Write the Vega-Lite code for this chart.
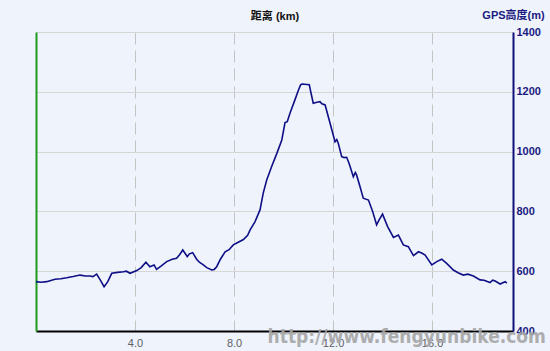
{
  "$schema": "https://vega.github.io/schema/vega-lite/v6.json",
  "width": 477,
  "height": 299,
  "autosize": {"type": "none"},
  "padding": {"left": 36, "top": 32, "right": 37, "bottom": 20},
  "background": "#EEF3FC",
  "config": {"view": {"stroke": null}, "font": "Liberation Sans, Noto Sans CJK SC, sans-serif"},
  "datasets": {
    "profile": [
      {"km": 0.0, "elev": 565}, {"km": 0.2, "elev": 563}, {"km": 0.43, "elev": 565}, {"km": 0.6, "elev": 569},
      {"km": 0.77, "elev": 573}, {"km": 1.0, "elev": 575}, {"km": 1.24, "elev": 578}, {"km": 1.5, "elev": 582},
      {"km": 1.78, "elev": 587}, {"km": 2.0, "elev": 584}, {"km": 2.18, "elev": 584}, {"km": 2.3, "elev": 582},
      {"km": 2.45, "elev": 590}, {"km": 2.6, "elev": 570}, {"km": 2.75, "elev": 548}, {"km": 2.9, "elev": 565},
      {"km": 3.06, "elev": 593}, {"km": 3.3, "elev": 596}, {"km": 3.53, "elev": 598}, {"km": 3.65, "elev": 600},
      {"km": 3.8, "elev": 593}, {"km": 4.07, "elev": 602}, {"km": 4.25, "elev": 612}, {"km": 4.44, "elev": 630},
      {"km": 4.6, "elev": 615}, {"km": 4.77, "elev": 621}, {"km": 4.87, "elev": 606}, {"km": 5.05, "elev": 617},
      {"km": 5.28, "elev": 632}, {"km": 5.5, "elev": 640}, {"km": 5.68, "elev": 643}, {"km": 5.8, "elev": 655},
      {"km": 5.93, "elev": 671}, {"km": 6.02, "elev": 660}, {"km": 6.11, "elev": 649}, {"km": 6.2, "elev": 658},
      {"km": 6.33, "elev": 662}, {"km": 6.49, "elev": 640}, {"km": 6.6, "elev": 630}, {"km": 6.76, "elev": 621},
      {"km": 6.9, "elev": 612}, {"km": 7.1, "elev": 604}, {"km": 7.2, "elev": 606}, {"km": 7.3, "elev": 615},
      {"km": 7.45, "elev": 640}, {"km": 7.64, "elev": 665}, {"km": 7.8, "elev": 672}, {"km": 7.97, "elev": 688},
      {"km": 8.15, "elev": 696}, {"km": 8.38, "elev": 706}, {"km": 8.55, "elev": 720}, {"km": 8.65, "elev": 738},
      {"km": 8.85, "elev": 766}, {"km": 9.05, "elev": 805}, {"km": 9.18, "elev": 861}, {"km": 9.32, "elev": 905},
      {"km": 9.52, "elev": 950}, {"km": 9.73, "elev": 994}, {"km": 9.93, "elev": 1039}, {"km": 10.06, "elev": 1097},
      {"km": 10.15, "elev": 1100}, {"km": 10.26, "elev": 1128}, {"km": 10.46, "elev": 1173}, {"km": 10.6, "elev": 1205},
      {"km": 10.69, "elev": 1223}, {"km": 10.75, "elev": 1226}, {"km": 11.04, "elev": 1224}, {"km": 11.1, "elev": 1200},
      {"km": 11.2, "elev": 1162}, {"km": 11.35, "elev": 1165}, {"km": 11.47, "elev": 1167}, {"km": 11.55, "elev": 1160},
      {"km": 11.68, "elev": 1156}, {"km": 11.88, "elev": 1095}, {"km": 12.08, "elev": 1033}, {"km": 12.15, "elev": 1040},
      {"km": 12.21, "elev": 1028}, {"km": 12.35, "elev": 983}, {"km": 12.45, "elev": 980}, {"km": 12.55, "elev": 981},
      {"km": 12.65, "elev": 960}, {"km": 12.82, "elev": 916}, {"km": 12.9, "elev": 930}, {"km": 12.95, "elev": 922},
      {"km": 13.1, "elev": 880}, {"km": 13.22, "elev": 844}, {"km": 13.43, "elev": 838}, {"km": 13.6, "elev": 800},
      {"km": 13.76, "elev": 755}, {"km": 13.85, "elev": 770}, {"km": 14.0, "elev": 791}, {"km": 14.2, "elev": 750},
      {"km": 14.44, "elev": 713}, {"km": 14.64, "elev": 721}, {"km": 14.84, "elev": 688}, {"km": 15.04, "elev": 682},
      {"km": 15.25, "elev": 652}, {"km": 15.45, "elev": 665}, {"km": 15.6, "elev": 660}, {"km": 15.72, "elev": 654},
      {"km": 15.99, "elev": 621}, {"km": 16.19, "elev": 632}, {"km": 16.39, "elev": 640}, {"km": 16.59, "elev": 626},
      {"km": 16.86, "elev": 604}, {"km": 17.05, "elev": 595}, {"km": 17.26, "elev": 587}, {"km": 17.45, "elev": 590},
      {"km": 17.67, "elev": 584}, {"km": 17.94, "elev": 571}, {"km": 18.1, "elev": 570}, {"km": 18.34, "elev": 562},
      {"km": 18.45, "elev": 570}, {"km": 18.55, "elev": 567}, {"km": 18.75, "elev": 557}, {"km": 18.95, "elev": 565},
      {"km": 19.02, "elev": 560}
    ],
    "watermark": [
      {"km": 20.6, "elev": 360, "label": "http://www.fengyunbike.com"}
    ]
  },
  "layer": [
    {
      "data": {"name": "profile"},
      "mark": {"type": "line", "color": "#0F0F86", "strokeWidth": 1.6, "interpolate": "linear"},
      "encoding": {
        "x": {
          "field": "km", "type": "quantitative",
          "scale": {"domain": [0, 19.27], "nice": false, "zero": false},
          "axis": {
            "orient": "bottom", "title": null, "values": [4, 8, 12, 16], "format": ".1f",
            "ticks": false, "labelPadding": 6, "labelFontSize": 11, "labelColor": "#606060",
            "domainColor": "#000000", "domainWidth": 2,
            "grid": true, "gridColor": "#C4C4C4", "gridDash": [12, 6], "gridWidth": 1
          }
        },
        "y": {
          "field": "elev", "type": "quantitative",
          "scale": {"domain": [400, 1400], "nice": false, "zero": false},
          "axis": {
            "orient": "right", "values": [400, 600, 800, 1000, 1200, 1400], "format": "d",
            "ticks": false, "labelPadding": 3, "labelFontSize": 11, "labelFontWeight": "bold",
            "labelColor": "#1A1A80", "labelBaseline": "middle",
            "domainColor": "#10107A", "domainWidth": 2,
            "grid": true, "gridColor": "#D6D6D6", "gridWidth": 1,
            "title": "GPS高度(m)", "titleAngle": 0, "titleX": 0, "titleY": -17,
            "titleAlign": "center", "titleBaseline": "middle",
            "titleFontSize": 11, "titleFontWeight": "bold", "titleColor": "#1A1A80"
          }
        }
      }
    },
    {
      "data": {"name": "watermark"},
      "mark": {
        "type": "text", "align": "right", "baseline": "alphabetic",
        "font": "DejaVu Sans Condensed, Liberation Sans Narrow, sans-serif",
        "fontSize": 19, "fontWeight": "bold", "color": "#A6A6A6", "opacity": 0.9
      },
      "encoding": {
        "x": {
          "field": "km", "type": "quantitative",
          "axis": {
            "orient": "top", "title": "距离 (km)", "labels": false, "ticks": false,
            "domain": false, "grid": false, "titlePadding": 11,
            "titleFontSize": 11, "titleFontWeight": "bold", "titleColor": "#111111"
          }
        },
        "y": {
          "field": "elev", "type": "quantitative",
          "axis": {
            "orient": "left", "title": null, "labels": false, "ticks": false,
            "grid": false, "domainColor": "#1E9A1E", "domainWidth": 2
          }
        },
        "text": {"field": "label"}
      }
    }
  ],
  "resolve": {"axis": {"x": "independent", "y": "independent"}}
}
